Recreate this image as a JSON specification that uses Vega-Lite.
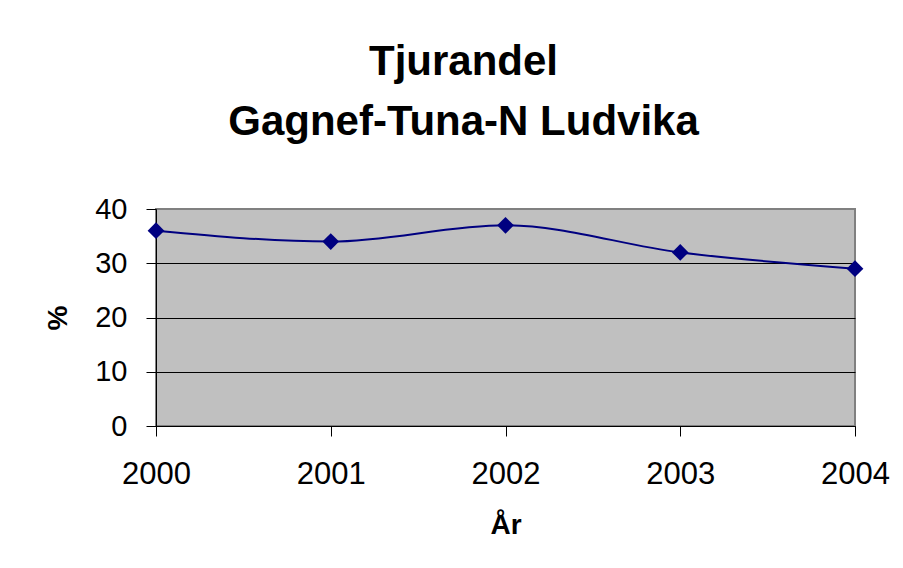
{
  "$schema": "https://vega.github.io/schema/vega-lite/v6.json",
  "autosize": "none",
  "width": 699,
  "height": 217,
  "padding": {"left": 156, "top": 209, "right": 48, "bottom": 142},
  "background": "white",
  "title": {
    "text": ["Tjurandel", "Gagnef-Tuna-N Ludvika"],
    "font": "Liberation Sans",
    "fontSize": 42,
    "fontWeight": "bold",
    "color": "black",
    "lineHeight": 60,
    "baseline": "alphabetic",
    "anchor": "middle",
    "dx": -42,
    "offset": 18
  },
  "data": {
    "values": [
      {"year": "2000", "pct": 36},
      {"year": "2001", "pct": 34},
      {"year": "2002", "pct": 37},
      {"year": "2003", "pct": 32},
      {"year": "2004", "pct": 29}
    ]
  },
  "config": {
    "view": {"fill": "#C0C0C0", "stroke": "#808080", "strokeWidth": 2},
    "axis": {
      "labelFont": "Liberation Sans",
      "titleFont": "Liberation Sans",
      "labelColor": "black",
      "titleColor": "black",
      "domainColor": "black",
      "tickColor": "black",
      "tickSize": 10,
      "labelFontSize": 29,
      "titleFontSize": 28,
      "titleFontWeight": "bold"
    }
  },
  "encoding": {
    "x": {
      "field": "year",
      "type": "ordinal",
      "scale": {"type": "point", "padding": 0},
      "axis": {
        "title": "År",
        "labelAngle": 0,
        "labelFontSize": 31,
        "labelPadding": 23,
        "titlePadding": 22,
        "grid": false
      }
    },
    "y": {
      "field": "pct",
      "type": "quantitative",
      "scale": {"domain": [0, 40], "nice": false, "zero": true},
      "axis": {
        "title": "%",
        "values": [0, 10, 20, 30, 40],
        "labelPadding": 19,
        "titlePadding": 22,
        "grid": true,
        "gridColor": {"condition": {"test": "datum.value === 40", "value": "#808080"}, "value": "black"},
        "gridWidth": 1
      }
    }
  },
  "layer": [
    {
      "mark": {"type": "line", "color": "#000080", "strokeWidth": 2, "interpolate": "monotone"}
    },
    {
      "mark": {"type": "point", "shape": "diamond", "filled": true, "color": "#000080", "size": 280, "opacity": 1}
    }
  ]
}
